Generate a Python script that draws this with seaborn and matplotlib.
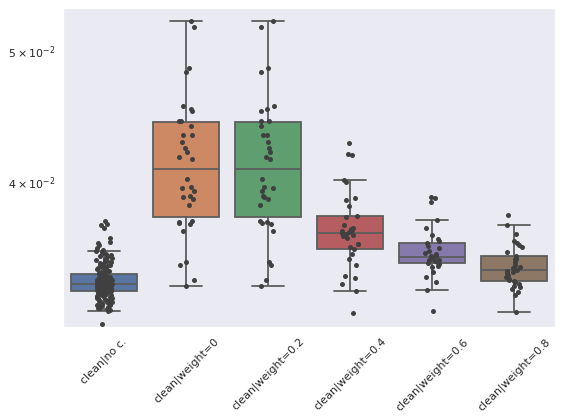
import numpy as np
import pandas as pd
import matplotlib
matplotlib.use("Agg")
import matplotlib.pyplot as plt
import seaborn as sns

categories = ["clean|no c.", "clean|weight=0", "clean|weight=0.2",
              "clean|weight=0.4", "clean|weight=0.6", "clean|weight=0.8"]

no_c = [
    0.03741, 0.03722, 0.03716, 0.03697, 0.03634, 0.03613, 0.03605, 0.03593, 0.03573, 0.03563,
    0.03557, 0.03546, 0.03537, 0.03527, 0.03518, 0.03509, 0.03503, 0.03494, 0.03485, 0.03479,
    0.03471, 0.03465, 0.03459, 0.03453, 0.03444, 0.03438, 0.03432, 0.03423,
    0.03550, 0.03531, 0.03512, 0.03498, 0.03488, 0.03475, 0.03462, 0.03448, 0.03441, 0.03435,
    0.03428, 0.03420,
    0.03416, 0.03414, 0.03411, 0.03409, 0.03406, 0.03403, 0.03401, 0.03398, 0.03396, 0.03394,
    0.03392, 0.03390, 0.03388, 0.03386, 0.03384, 0.03382, 0.03380, 0.03379, 0.03377, 0.03375,
    0.03373, 0.03372, 0.03370, 0.03369, 0.03367, 0.03366, 0.03365, 0.03364, 0.03362, 0.03361,
    0.03359, 0.03358, 0.03356, 0.03355, 0.03353, 0.03352, 0.03350, 0.03349, 0.03347, 0.03346,
    0.03344, 0.03343, 0.03341, 0.03340, 0.03338, 0.03337, 0.03335, 0.03334, 0.03332, 0.03331,
    0.03330, 0.03329, 0.03327, 0.03326, 0.03325, 0.03324,
    0.03412, 0.03408, 0.03404, 0.03399, 0.03395, 0.03391, 0.03387, 0.03383, 0.03378, 0.03374,
    0.03371, 0.03368, 0.03363, 0.03360, 0.03357, 0.03354, 0.03351, 0.03348, 0.03345, 0.03342,
    0.03339, 0.03336, 0.03333, 0.03328,
    0.03322, 0.03318, 0.03315, 0.03311, 0.03307, 0.03303, 0.03299, 0.03296, 0.03292, 0.03288,
    0.03284, 0.03280, 0.03276, 0.03272, 0.03268, 0.03264, 0.03260, 0.03256, 0.03251, 0.03246,
    0.03241, 0.03236, 0.03231, 0.03226, 0.03220, 0.03215, 0.03210, 0.03139,
    0.03320, 0.03313, 0.03305, 0.03297, 0.03290, 0.03282, 0.03274, 0.03266, 0.03258, 0.03248,
    0.03238, 0.03225,
]

weight_0 = [
    0.05265, 0.05211, 0.04854, 0.04822, 0.04555, 0.04530, 0.04514, 0.04440, 0.04438, 0.04400,
    0.04331, 0.04330, 0.04280, 0.04240, 0.04212, 0.04176, 0.04158, 0.04020, 0.03968, 0.03957,
    0.03941, 0.03906, 0.03897, 0.03884, 0.03844, 0.03741, 0.03739, 0.03732, 0.03724, 0.03682,
    0.03489, 0.03471, 0.03385, 0.03352,
]

weight_02 = [
    0.05265, 0.05211, 0.04854, 0.04822, 0.04555, 0.04530, 0.04514, 0.04440, 0.04438, 0.04400,
    0.04331, 0.04330, 0.04280, 0.04240, 0.04212, 0.04176, 0.04158, 0.04020, 0.03968, 0.03957,
    0.03941, 0.03906, 0.03897, 0.03884, 0.03844, 0.03741, 0.03739, 0.03732, 0.03724, 0.03682,
    0.03489, 0.03471, 0.03385, 0.03352,
]

weight_04 = [
    0.04277, 0.04193, 0.04186, 0.04014, 0.03998, 0.03892, 0.03877, 0.03840, 0.03777, 0.03767,
    0.03716, 0.03700, 0.03692, 0.03684, 0.03682, 0.03675, 0.03669, 0.03661, 0.03653, 0.03649,
    0.03636, 0.03599, 0.03597, 0.03581, 0.03567, 0.03538, 0.03510, 0.03473, 0.03408, 0.03395,
    0.03364, 0.03322, 0.03200,
]

weight_06 = [
    0.03899, 0.03890, 0.03868, 0.03747, 0.03697, 0.03655, 0.03628, 0.03619, 0.03607, 0.03587,
    0.03573, 0.03557, 0.03546, 0.03537, 0.03528, 0.03525, 0.03519, 0.03514, 0.03508, 0.03504,
    0.03501, 0.03495, 0.03491, 0.03488, 0.03485, 0.03476, 0.03469, 0.03461, 0.03430, 0.03402,
    0.03375, 0.03330, 0.03211,
]

weight_08 = [
    0.03781, 0.03719, 0.03661, 0.03619, 0.03607, 0.03593, 0.03579, 0.03550, 0.03528, 0.03510,
    0.03507, 0.03491, 0.03471, 0.03463, 0.03455, 0.03449, 0.03445, 0.03439, 0.03432, 0.03423,
    0.03414, 0.03401, 0.03393, 0.03385, 0.03379, 0.03374, 0.03362, 0.03351, 0.03343, 0.03332,
    0.03317, 0.03300, 0.03207,
]

groups = [no_c, weight_0, weight_02, weight_04, weight_06, weight_08]
rows = []
for cat, vals in zip(categories, groups):
    for v in vals:
        rows.append((cat, v))
df = pd.DataFrame(rows, columns=["setting", "value"])

sns.set_theme(style="darkgrid")
np.random.seed(3)

fig = plt.figure(figsize=(563 / 72, 420 / 72), dpi=72)
ax = fig.add_axes([63 / 563, 1 - 326.7 / 420, 492 / 563, (326.7 - 8) / 420])
ax.set_yscale("log")

sns.boxplot(data=df, x="setting", y="value", hue="setting", order=categories,
            hue_order=categories, palette="deep", showfliers=False,
            linecolor="#5c5c5c", linewidth=1.8,
            legend=False, ax=ax)
sns.stripplot(data=df, x="setting", y="value", order=categories,
              color=".25", size=5, jitter=True, ax=ax)

ax.set_ylim(0.03126, 0.0538)
ax.set_xlabel("")
ax.set_ylabel("")
plt.setp(ax.get_xticklabels(), rotation=45)

fig.savefig("out.png", dpi=72)
